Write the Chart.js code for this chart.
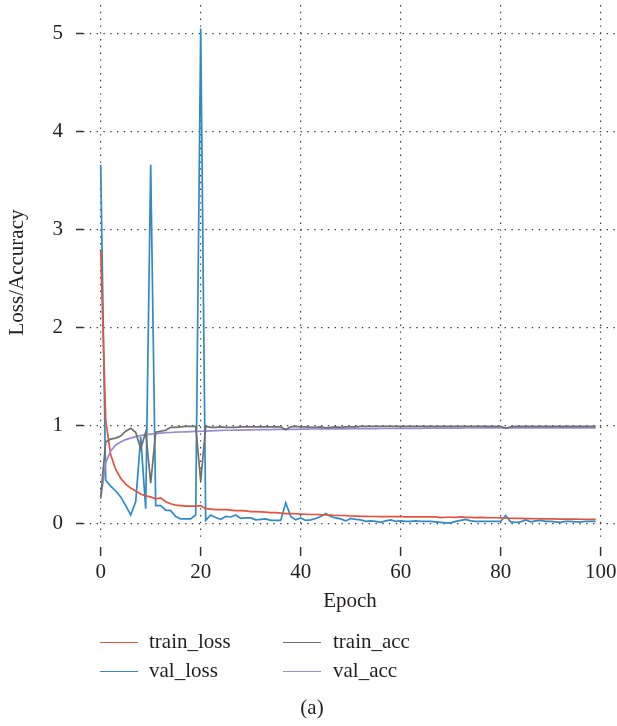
<!DOCTYPE html>
<html>
<head>
<meta charset="utf-8">
<script src="https://cdn.jsdelivr.net/npm/chart.js@4.4.1/dist/chart.umd.min.js"></script>
<style>
html,body{margin:0;padding:0;background:#ffffff;}
#wrap{position:relative;width:617px;height:726px;overflow:hidden;}
#c{position:absolute;left:0;top:0;}
.sw{position:absolute;width:38px;height:0;border-top:1.5px solid;}
.lt{position:absolute;font-family:"Liberation Serif","Times New Roman",serif;font-size:21px;line-height:24px;color:#231f20;white-space:nowrap;}
</style>
</head>
<body>
<div id="wrap">
<canvas id="c" width="617" height="726"></canvas>
<div class="sw" style="left:100px;top:642px;border-color:#e5533d"></div>
<div class="lt" style="left:149px;top:629px">train_loss</div>
<div class="sw" style="left:283px;top:642px;border-color:#6f6f6f"></div>
<div class="lt" style="left:333px;top:629px">train_acc</div>
<div class="sw" style="left:100px;top:671px;border-color:#2e8bc6"></div>
<div class="lt" style="left:149px;top:658px">val_loss</div>
<div class="sw" style="left:283px;top:671px;border-color:#9a8bd0"></div>
<div class="lt" style="left:333px;top:658px">val_acc</div>
<div class="lt" style="left:0;width:624px;text-align:center;top:695px">(a)</div>
</div>
<script>
// ---- data ----
const epochs = Array.from({length: 100}, (_, i) => i);

const trainLoss = [
  2.78, 1.05, 0.70, 0.55, 0.46, 0.40, 0.36, 0.33, 0.30, 0.28,
  0.27, 0.25, 0.26, 0.22, 0.20, 0.185, 0.18, 0.175, 0.175, 0.175,
  0.18, 0.15, 0.145, 0.14, 0.14, 0.14, 0.135, 0.13, 0.13, 0.128,
  0.12, 0.12, 0.118, 0.115, 0.11, 0.11, 0.105, 0.10, 0.10, 0.098,
  0.095, 0.093, 0.09, 0.09, 0.088, 0.085, 0.083, 0.08, 0.08, 0.078,
  0.075, 0.073, 0.072, 0.071, 0.07, 0.07, 0.069, 0.068, 0.068, 0.068,
  0.068, 0.067, 0.067, 0.067, 0.066, 0.066, 0.066, 0.065, 0.058, 0.062,
  0.062, 0.061, 0.065, 0.06, 0.06, 0.058, 0.06, 0.058, 0.057, 0.057,
  0.056, 0.052, 0.052, 0.05, 0.05, 0.048, 0.048, 0.047, 0.046, 0.046,
  0.045, 0.045, 0.044, 0.044, 0.043, 0.043, 0.042, 0.042, 0.041, 0.04
];

const valLoss = [
  3.66, 0.44, 0.38, 0.33, 0.27, 0.18, 0.085, 0.22, 0.88, 0.15,
  3.66, 0.18, 0.18, 0.135, 0.13, 0.07, 0.045, 0.045, 0.045, 0.085,
  5.05, 0.03, 0.085, 0.06, 0.04, 0.07, 0.065, 0.085, 0.05, 0.055,
  0.055, 0.035, 0.04, 0.045, 0.03, 0.03, 0.03, 0.21, 0.07, 0.035,
  0.055, 0.03, 0.035, 0.05, 0.07, 0.10, 0.07, 0.055, 0.045, 0.025,
  0.05, 0.04, 0.035, 0.02, 0.025, 0.02, 0.01, 0.025, 0.035, 0.02,
  0.025, 0.02, 0.02, 0.025, 0.02, 0.02, 0.02, 0.015, 0.01, 0.005,
  0.005, 0.02, 0.03, 0.04, 0.025, 0.02, 0.02, 0.02, 0.02, 0.02,
  0.02, 0.08, 0.015, 0.01, 0.015, 0.035, 0.015, 0.025, 0.03, 0.02,
  0.02, 0.015, 0.01, 0.02, 0.02, 0.015, 0.015, 0.02, 0.02, 0.02
];

const trainAcc = [
  0.27, 0.83, 0.86, 0.87, 0.89, 0.94, 0.97, 0.93, 0.76, 0.93,
  0.41, 0.93, 0.94, 0.95, 0.98, 0.98, 0.985, 0.99, 0.99, 0.99,
  0.43, 0.99, 0.98, 0.98, 0.985, 0.98, 0.98, 0.98, 0.985, 0.985,
  0.985, 0.985, 0.985, 0.985, 0.985, 0.985, 0.985, 0.955, 0.985, 0.99,
  0.985, 0.985, 0.98, 0.98, 0.985, 0.975, 0.98, 0.985, 0.98, 0.985,
  0.985, 0.985, 0.99, 0.99, 0.99, 0.99, 0.99, 0.99, 0.99, 0.99,
  0.99, 0.99, 0.99, 0.99, 0.99, 0.99, 0.99, 0.99, 0.99, 0.99,
  0.99, 0.99, 0.99, 0.99, 0.99, 0.99, 0.99, 0.99, 0.99, 0.99,
  0.99, 0.97, 0.985, 0.99, 0.99, 0.99, 0.99, 0.99, 0.99, 0.99,
  0.99, 0.99, 0.99, 0.99, 0.99, 0.99, 0.99, 0.99, 0.99, 0.99
];

const valAcc = [
  0.25, 0.62, 0.74, 0.80, 0.83, 0.855, 0.87, 0.885, 0.895, 0.905,
  0.91, 0.915, 0.92, 0.925, 0.927, 0.93, 0.932, 0.934, 0.936, 0.938,
  0.94, 0.942, 0.944, 0.946, 0.948, 0.95, 0.95, 0.952, 0.952, 0.954,
  0.954, 0.955, 0.956, 0.956, 0.957, 0.958, 0.958, 0.958, 0.96, 0.96,
  0.962, 0.962, 0.963, 0.963, 0.964, 0.964, 0.965, 0.965, 0.965, 0.965,
  0.966, 0.966, 0.966, 0.967, 0.967, 0.967, 0.968, 0.968, 0.968, 0.969,
  0.97, 0.97, 0.97, 0.97, 0.97, 0.971, 0.971, 0.971, 0.971, 0.972,
  0.972, 0.972, 0.972, 0.973, 0.973, 0.973, 0.973, 0.974, 0.974, 0.974,
  0.975, 0.975, 0.975, 0.975, 0.975, 0.975, 0.975, 0.975, 0.975, 0.975,
  0.975, 0.975, 0.975, 0.975, 0.975, 0.975, 0.975, 0.975, 0.975, 0.975
];

const xTicks = [0, 20, 40, 60, 80, 100];
const yTicks = [0, 1, 2, 3, 4, 5];

// ---- chart ----
const FONT = '"Liberation Serif", "Times New Roman", serif';
const TXT = '#231f20';
const GRID = '#3c3c3c';

function ds(label, data, color) {
  return {label, data, borderColor: color, backgroundColor: color, borderWidth: 1.7,
          pointRadius: 0, pointHoverRadius: 0, tension: 0, fill: false};
}

new Chart(document.getElementById('c'), {
  type: 'line',
  data: {
    labels: epochs,
    datasets: [
      ds('train_acc', trainAcc, '#6f6f6f'),
      ds('val_acc', valAcc, '#9a8bd0'),
      ds('train_loss', trainLoss, '#e5533d'),
      ds('val_loss', valLoss, '#2e8bc6')
    ]
  },
  options: {
    responsive: false,
    animation: false,
    events: [],
    layout: {padding: {left: 0, right: 0, top: 5, bottom: 112}},
    plugins: {legend: {display: false}, tooltip: {enabled: false}},
    scales: {
      x: {
        type: 'linear',
        min: -3.54, max: 103.26,
        afterBuildTicks: a => { a.ticks = xTicks.map(v => ({value: v})); },
        afterFit: s => { s.height = 74; s.paddingLeft = 0; s.paddingRight = 0; },
        grid: {color: GRID, lineWidth: 1.2, drawTicks: true, tickLength: 16,
               tickColor: '#333', tickWidth: 1.5, tickBorderDash: [0, 7, 9, 0]},
        border: {display: false, dash: [1.4, 5.4]},
        ticks: {font: {family: FONT, size: 21}, color: TXT, padding: 4, maxRotation: 0,
                autoSkip: false, callback: v => String(v)},
        title: {display: true, text: 'Epoch', font: {family: FONT, size: 21}, color: TXT,
                padding: {top: 0, bottom: 0}}
      },
      y: {
        min: -0.17, max: 5.29,
        afterBuildTicks: a => { a.ticks = yTicks.map(v => ({value: v})); },
        afterFit: s => { s.width = 83; s.paddingTop = 0; s.paddingBottom = 0; },
        grid: {color: GRID, lineWidth: 1.2, drawTicks: true, tickLength: 10,
               tickColor: '#333', tickWidth: 1.5, tickBorderDash: [0, 3, 7, 0]},
        border: {display: false, dash: [1.4, 5.4]},
        ticks: {font: {family: FONT, size: 21}, color: TXT, padding: 10,
                callback: v => String(v)},
        title: {display: true, text: 'Loss/Accuracy', font: {family: FONT, size: 21}, color: TXT,
                padding: {top: 5, bottom: 0}}
      }
    }
  }
});
</script>
</body>
</html>
